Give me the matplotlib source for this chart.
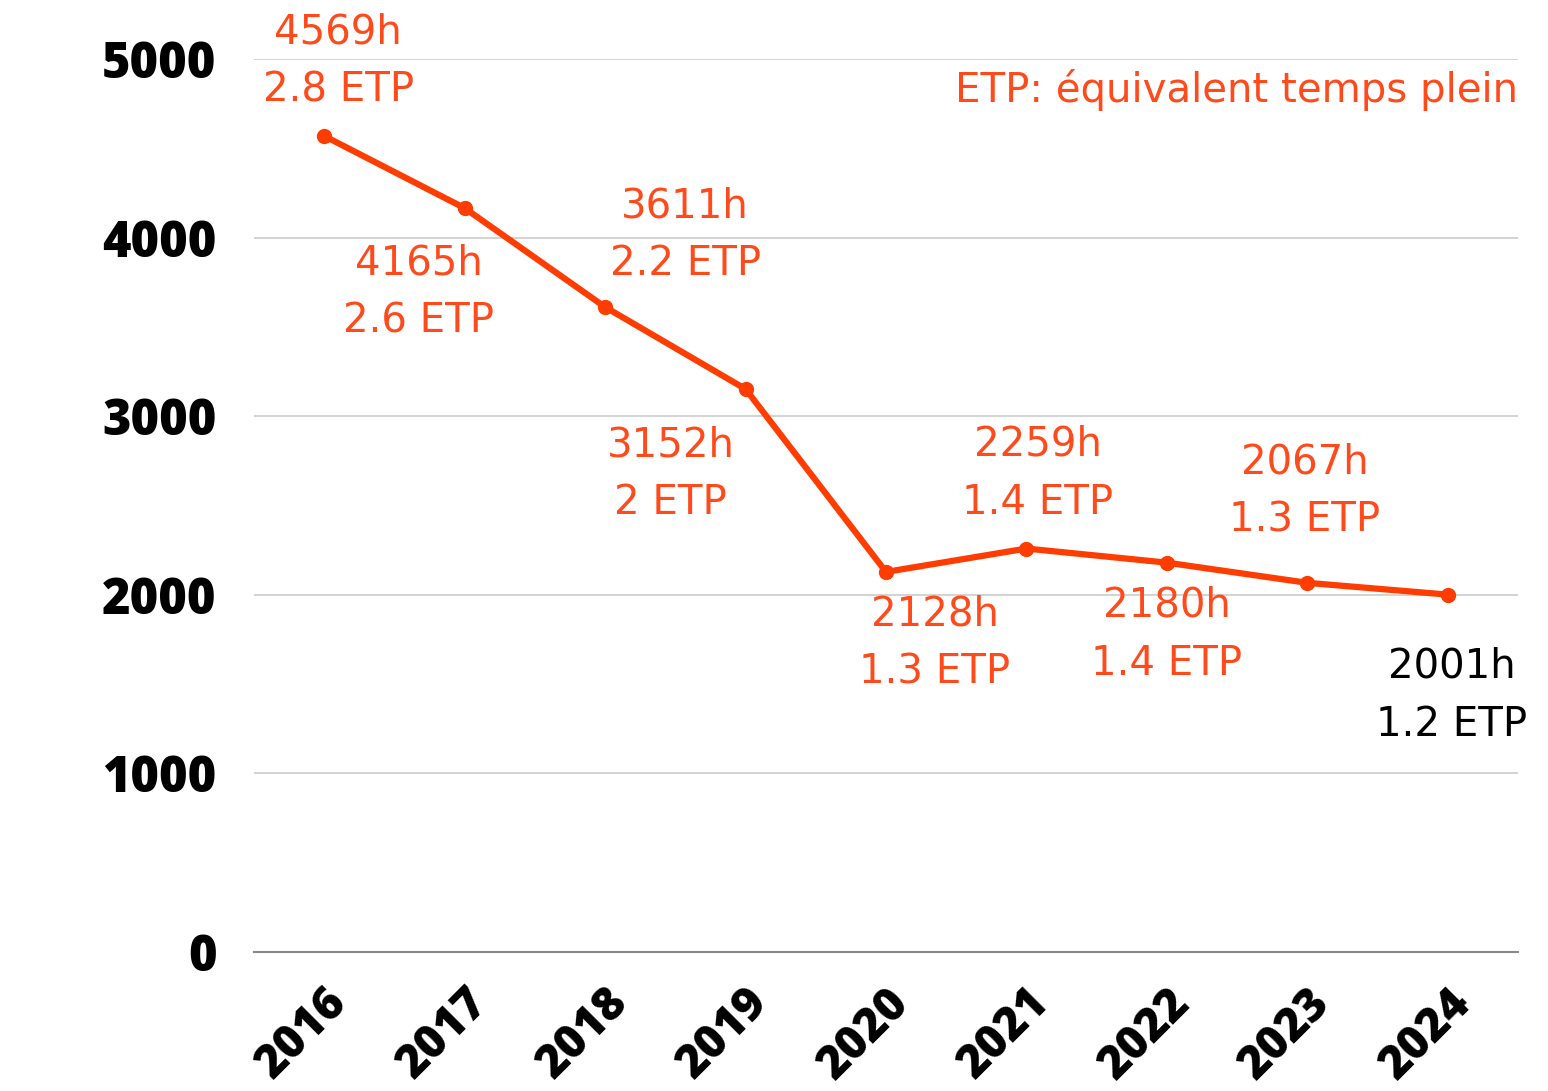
import matplotlib.pyplot as plt

years = ["2016", "2017", "2018", "2019", "2020", "2021", "2022", "2023", "2024"]
hours = [4569, 4165, 3611, 3152, 2128, 2259, 2180, 2067, 2001]
etp = ["2.8", "2.6", "2.2", "2", "1.3", "1.4", "1.4", "1.3", "1.2"]
yticks = [0, 1000, 2000, 3000, 4000, 5000]

# label offsets (pixels) from each point, to the centre of the two-line label
offsets = [(14, 74), (-46, -84), (80, 72), (-75, -85), (49, -72), (11, 75), (0, -72), (-3, 91), (4, -101)]
orange = "#FF4A1C"
line_color = "#FF3D00"

fig = plt.figure(figsize=(15.48, 10.91), dpi=100)
ax = fig.add_axes([254 / 1548, 1 - 952 / 1091, (1518 - 254) / 1548, (952 - 59) / 1091])

x = list(range(len(years)))
ax.plot(x, hours, color=line_color, lw=4.5, marker="o", ms=10, zorder=3)

for i, (h, e) in enumerate(zip(hours, etp)):
    col = "black" if i == len(hours) - 1 else orange
    ax.annotate(f"{h}h\n{e} ETP", (i, h), xytext=offsets[i], textcoords="offset pixels",
                ha="center", va="center", fontsize=29, color=col,
                family="DejaVu Sans", linespacing=1.58)

ax.text(1.0, 0.965, "ETP: équivalent temps plein", transform=ax.transAxes,
        ha="right", va="center", fontsize=29, color=orange, family="DejaVu Sans")

ax.set_xlim(-0.5, 8.5)
ax.set_ylim(0, 5000)
ax.set_yticks(yticks)
ax.set_yticklabels([str(v) for v in yticks], fontsize=35, fontweight="heavy", family="Open Sans")
ax.set_xticks(x)
ax.set_xticklabels(years, rotation=45, ha="right", rotation_mode="anchor",
                   fontsize=33, fontweight="heavy", family="Open Sans")
ax.tick_params(length=0)
ax.tick_params(axis="y", pad=27)
ax.tick_params(axis="x", pad=20)
ax.grid(axis="y", color="#CCCCCC", lw=1.2)
for s in ["top", "right", "left"]:
    ax.spines[s].set_visible(False)
ax.spines["bottom"].set_color("#888888")
ax.spines["bottom"].set_linewidth(1.5)
ax.set_axisbelow(True)

fig.savefig("out.png", dpi=100)
